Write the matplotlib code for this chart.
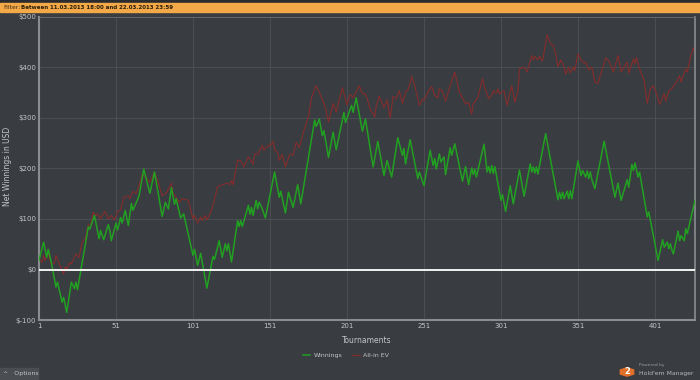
import matplotlib
matplotlib.use("Agg")
import matplotlib.pyplot as plt
from matplotlib.patches import Rectangle, RegularPolygon
from matplotlib.ticker import FuncFormatter

# vertices (tournament #, net $)
win_t = [1, 4, 6, 7, 9, 12, 13, 16, 17, 19, 22, 24, 25, 26, 33, 34, 37, 40, 41, 43,
         46, 47, 48, 51, 52, 54, 55, 57, 59, 61, 62, 66, 69, 73, 76, 81, 83, 85, 87, 89,
         90, 93, 95, 101, 102, 104, 106, 110, 114, 115, 118, 120, 122, 123, 124, 126, 130, 131, 132, 133,
         137, 138, 139, 140, 142, 143, 144, 146, 148, 154, 157, 158, 161, 163, 166, 169, 171, 180, 181, 183,
         185, 186, 189, 192, 194, 199, 200, 204, 205, 207, 211, 213, 216, 218, 221, 225, 227, 230, 234, 237,
         238, 239, 242, 247, 248, 251, 255, 257, 258, 259, 261, 262, 264, 265, 268, 269, 271, 276, 278, 280,
         282, 283, 284, 285, 290, 292, 293, 294, 295, 296, 297, 301, 302, 304, 307, 309, 313, 316, 320, 321,
         322, 323, 324, 325, 330, 338, 339, 340, 341, 342, 344, 345, 346, 347, 351, 353, 354, 356, 357, 358,
         359, 360, 362, 368, 375, 377, 379, 383, 384, 386, 387, 388, 390, 391, 396, 397, 403, 406, 407, 409,
         410, 411, 412, 413, 416, 417, 418, 420, 421, 422, 427]
win_v = [18, 54, 24, 40, 14, -35, -25, -65, -55, -85, -25, -38, -25, -40, 84, 80, 107, 61, 77, 59,
         89, 77, 57, 92, 78, 103, 92, 117, 87, 131, 117, 146, 199, 151, 193, 105, 133, 120, 162, 129,
         140, 102, 110, 28, 40, 8, 32, -37, 26, 20, 57, 24, 51, 37, 51, 15, 97, 85, 97, 85,
         127, 109, 123, 107, 137, 120, 133, 120, 102, 193, 143, 155, 112, 153, 123, 168, 130, 296, 283, 298,
         265, 275, 222, 272, 237, 311, 291, 325, 311, 340, 274, 298, 241, 203, 254, 186, 216, 183, 261, 226,
         240, 209, 257, 180, 193, 166, 236, 206, 220, 199, 229, 213, 223, 188, 241, 226, 249, 175, 204, 168,
         201, 188, 199, 183, 248, 193, 204, 191, 206, 190, 204, 137, 148, 115, 166, 130, 197, 145, 209, 193,
         203, 191, 203, 189, 269, 138, 153, 140, 153, 140, 155, 140, 156, 140, 215, 186, 196, 183, 195, 180,
         193, 178, 160, 254, 143, 171, 137, 178, 163, 208, 196, 211, 183, 193, 104, 114, 18, 59, 44, 54,
         41, 51, 38, 31, 76, 57, 67, 57, 81, 71, 137]

ev_t = [1, 3, 4, 5, 7, 9, 11, 12, 15, 17, 18, 19, 21, 22, 25, 27, 29, 31, 33, 35,
        36, 38, 39, 41, 42, 44, 46, 48, 50, 52, 54, 56, 59, 60, 62, 64, 66, 68, 70, 73,
        76, 78, 80, 81, 84, 87, 88, 90, 92, 94, 98, 101, 102, 104, 106, 107, 109, 110, 112, 114,
        117, 120, 123, 125, 126, 127, 130, 132, 134, 137, 138, 140, 141, 143, 146, 147, 150, 151, 153, 154,
        156, 157, 159, 161, 164, 166, 168, 170, 173, 176, 178, 181, 183, 185, 187, 189, 192, 194, 198, 201,
        203, 205, 207, 209, 211, 213, 214, 216, 219, 220, 222, 223, 225, 227, 229, 231, 233, 235, 237, 239,
        241, 243, 245, 248, 250, 251, 254, 256, 258, 260, 261, 263, 265, 268, 271, 274, 278, 280, 282, 283,
        286, 289, 290, 293, 295, 296, 298, 299, 300, 303, 305, 308, 310, 312, 313, 316, 318, 321, 322, 323,
        325, 326, 328, 331, 333, 335, 337, 338, 340, 342, 343, 345, 346, 348, 349, 351, 353, 355, 356, 358,
        360, 362, 364, 365, 369, 371, 374, 377, 379, 383, 384, 387, 388, 389, 391, 394, 396, 398, 400, 402,
        404, 407, 408, 410, 412, 414, 415, 417, 418, 419, 421, 422, 424, 426, 427]
ev_v = [21, 14, 28, 18, 31, 11, 12, 28, 5, -9, 5, 1, 14, 11, 31, 24, 54, 61, 87, 92,
        113, 107, 110, 100, 107, 115, 100, 107, 98, 115, 118, 143, 146, 140, 155, 150, 166, 189, 183, 173,
        193, 176, 156, 146, 153, 171, 151, 143, 133, 140, 137, 100, 107, 92, 104, 97, 107, 98, 110, 127,
        164, 168, 171, 168, 176, 168, 217, 215, 203, 223, 219, 208, 229, 228, 246, 236, 246, 244, 254, 237,
        232, 216, 228, 203, 229, 226, 252, 241, 275, 303, 341, 364, 351, 336, 321, 292, 329, 312, 360, 326,
        347, 340, 351, 364, 348, 347, 340, 318, 302, 325, 343, 335, 320, 336, 300, 343, 338, 354, 329, 351,
        358, 382, 364, 325, 338, 335, 354, 362, 345, 340, 358, 353, 333, 364, 391, 351, 328, 331, 307, 328,
        340, 378, 364, 338, 345, 354, 349, 358, 348, 354, 325, 364, 331, 354, 397, 401, 391, 424, 415, 422,
        415, 422, 413, 465, 448, 444, 420, 402, 415, 401, 387, 401, 389, 401, 394, 427, 415, 409, 411, 395,
        401, 371, 369, 380, 419, 413, 391, 424, 391, 411, 389, 417, 407, 420, 397, 374, 329, 358, 364, 348,
        327, 348, 333, 354, 358, 368, 371, 384, 371, 381, 397, 391, 420, 439, 430]

x_ticks = [1, 51, 101, 151, 201, 251, 301, 351, 401]
y_ticks = [-100, 0, 100, 200, 300, 400, 500]

bg = "#393c40"
txt = "#c4c6c8"

fig = plt.figure(figsize=(7, 3.8), dpi=100, facecolor=bg)
ax = fig.add_axes([39 / 700, 1 - 320 / 380, 656 / 700, 303 / 380])
ax.set_facecolor(bg)

ax.plot(win_t, win_v, color="#22a022", lw=1.1, label="Winnings", zorder=3)
ax.plot(ev_t, ev_v, color="#852d2d", lw=0.8, label="All-in EV", zorder=2)
ax.axhline(0, color="white", lw=1.3, zorder=4)

ax.set_xlim(1, 427)
ax.set_ylim(-100, 500)
ax.set_xticks(x_ticks)
ax.set_yticks(y_ticks)
ax.yaxis.set_major_formatter(FuncFormatter(lambda v, p: "$%d" % v))
ax.grid(True, color="#4e5155", lw=0.6)
ax.tick_params(colors=txt, labelsize=5, length=0, pad=2)
for s in ax.spines.values():
    s.set_color("#6a6d71")
    s.set_linewidth(0.6)
for side, w in (("left", 1.5), ("bottom", 1.5), ("right", 1.2)):
    ax.spines[side].set_color("#8a8d90")
    ax.spines[side].set_linewidth(w)

ax.set_xlabel("Tournaments", color=txt, fontsize=5.5, labelpad=5)
fig.text(8 / 700, 1 - 166 / 380, "Net Winnings in USD", color=txt, fontsize=5.5,
         rotation=90, ha="center", va="center")

leg = fig.legend(loc="center", bbox_to_anchor=(346 / 700, 1 - 355 / 380), ncol=2,
                 frameon=False, fontsize=4.5, handlelength=1.2, columnspacing=1.5,
                 handletextpad=0.6)
for t in leg.get_texts():
    t.set_color(txt)

# top filter banner
fig.patches.append(Rectangle((0, 1 - 3 / 380), 1, 3 / 380, transform=fig.transFigure,
                             color="#2a2c2f", zorder=0))
fig.patches.append(Rectangle((0, 1 - 12 / 380), 1, 9 / 380, transform=fig.transFigure,
                             color="#f3a948", zorder=1))
fig.text(3 / 700, 1 - 7.5 / 380, "Filter:", fontsize=4.3, color="#3a2a10", va="center")
fig.text(21 / 700, 1 - 7.5 / 380, "Between 11.03.2013 18:00 and 22.03.2013 23:59",
         fontsize=4.0, color="#2a1c08", va="center", fontweight="bold")

# options button
fig.patches.append(Rectangle((0, 0), 38 / 700, 12 / 380, transform=fig.transFigure,
                             color="#4a4d51", zorder=1))
fig.text(3 / 700, 6 / 380, "^   Options", fontsize=4.5, color=txt, va="center")

# Hold'em Manager logo
fig.patches.append(RegularPolygon((627 / 700, 8 / 380), 6, radius=0.011, transform=fig.transFigure,
                                  color="#e06f2a", zorder=2))
fig.text(627 / 700, 8 / 380, "2", fontsize=6, color="white", fontweight="bold",
         ha="center", va="center")
fig.text(639 / 700, 15 / 380, "Powered by", fontsize=3.2, color="#9a9c9e", va="center")
fig.text(639 / 700, 6 / 380, "Hold'em Manager", fontsize=4.4, color="#b8babc", va="center")

fig.savefig("out.png", dpi=100, facecolor=bg)
